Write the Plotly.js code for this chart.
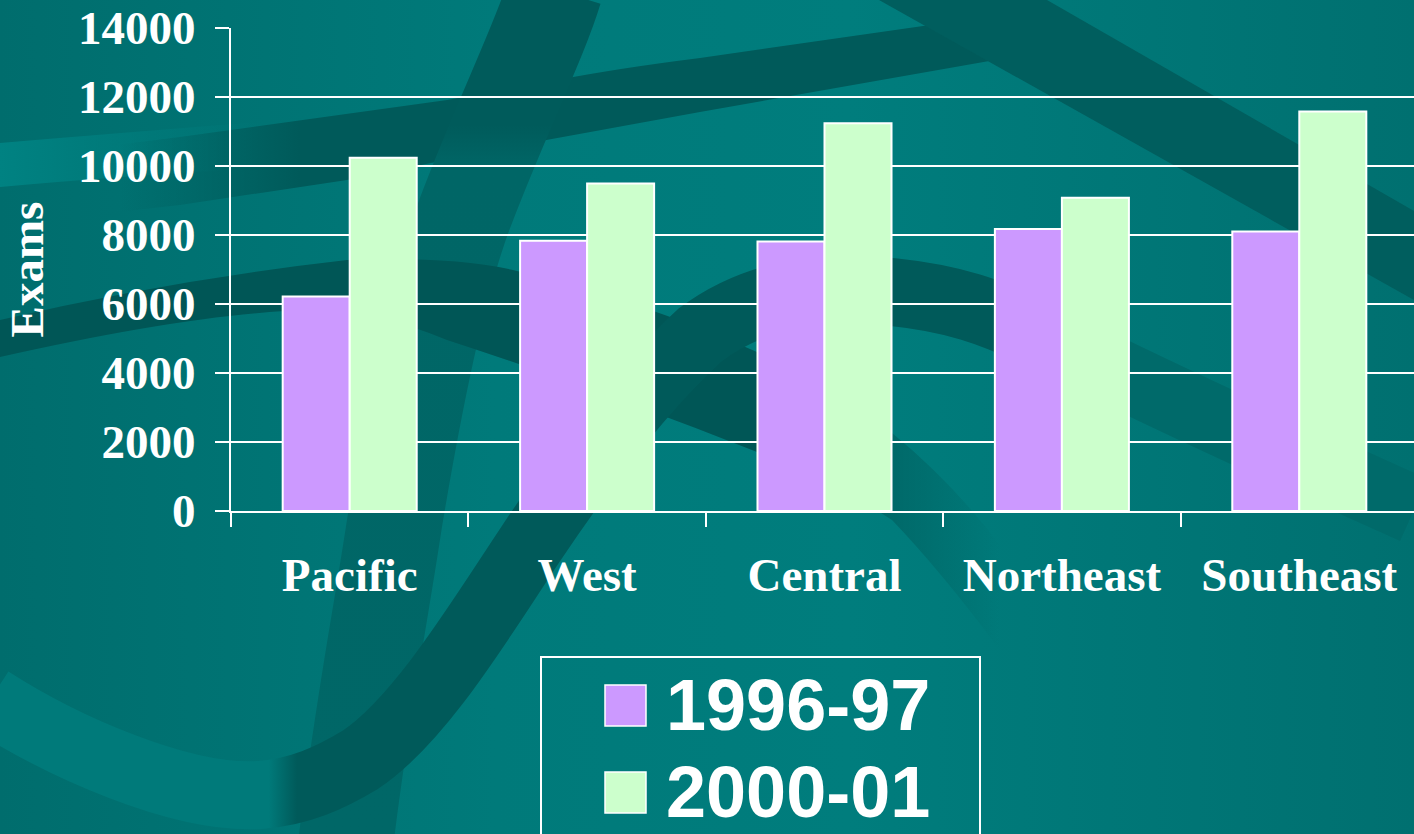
<!DOCTYPE html>
<html><head><meta charset="utf-8">
<script src="https://cdn.plot.ly/plotly-3.0.1.min.js"></script>
<style>
html,body{margin:0;padding:0;width:1414px;height:834px;overflow:hidden;background:#007878;}
#bg{position:absolute;left:0;top:0;}
#chart{position:absolute;left:0;top:0;width:1420px;height:834px;}
</style></head><body>
<svg id="bg" width="1414" height="834" xmlns="http://www.w3.org/2000/svg">
  <defs>
    <linearGradient id="g0" gradientUnits="userSpaceOnUse" x1="0" y1="0" x2="1414" y2="0">
      <stop offset="0" stop-color="#006d6d"/>
      <stop offset="0.35" stop-color="#007a7a"/>
      <stop offset="0.6" stop-color="#007d7d"/>
      <stop offset="1" stop-color="#007070"/>
    </linearGradient>
    <linearGradient id="gA" gradientUnits="userSpaceOnUse" x1="120" y1="0" x2="300" y2="0">
      <stop offset="0" stop-color="#005a5a" stop-opacity="0"/>
      <stop offset="1" stop-color="#005a5a" stop-opacity="1"/>
    </linearGradient>
    <linearGradient id="gL" gradientUnits="userSpaceOnUse" x1="0" y1="0" x2="260" y2="0">
      <stop offset="0" stop-color="#008282" stop-opacity="1"/>
      <stop offset="1" stop-color="#008282" stop-opacity="0"/>
    </linearGradient>
    <linearGradient id="gD" gradientUnits="userSpaceOnUse" x1="0" y1="0" x2="0" y2="834">
      <stop offset="0" stop-color="#005b5b"/>
      <stop offset="0.15" stop-color="#005b5b"/>
      <stop offset="0.2" stop-color="#006666"/>
      <stop offset="1" stop-color="#006767"/>
    </linearGradient>
    <linearGradient id="gB" gradientUnits="userSpaceOnUse" x1="0" y1="0" x2="1000" y2="0">
      <stop offset="0" stop-color="#005656" stop-opacity="1"/>
      <stop offset="0.78" stop-color="#005656" stop-opacity="1"/>
      <stop offset="1" stop-color="#005656" stop-opacity="0"/>
    </linearGradient>
    <linearGradient id="gC" gradientUnits="userSpaceOnUse" x1="0" y1="0" x2="1414" y2="0">
      <stop offset="0" stop-color="#007a7a"/>
      <stop offset="0.19" stop-color="#007a7a"/>
      <stop offset="0.21" stop-color="#005a5a"/>
      <stop offset="0.7" stop-color="#005a5a"/>
      <stop offset="0.76" stop-color="#006a6a"/>
      <stop offset="1" stop-color="#006a6a"/>
    </linearGradient>
  </defs>
  <rect x="0" y="0" width="1414" height="834" fill="url(#g0)"/>
  <path d="M0,143 Q120,133 260,122 L260,168 Q120,176 0,187 Z" fill="url(#gL)"/>
  <path d="M0,160 Q90,148 180,137 L447,100 L557,80 Q620,68 700,58 L930,25 L1000,15 L1030,15 L995,60 L700,112 L530,143 L347,180 L180,205 L0,225 Z" fill="url(#gA)"/>
  <path d="M555,-10 C540,40 500,120 465,213 C440,280 415,400 395,520 C380,620 360,720 345,850" fill="none" stroke="url(#gD)" stroke-width="95"/>
  <path d="M0,320 Q170,280 347,260 Q450,256 513,270 Q640,300 757,352 Q840,390 892,433 Q950,480 1000,545 L1000,650 Q940,570 892,520 Q830,480 757,452 Q600,390 447,340 Q380,312 313,310 Q200,312 0,357 Z" fill="url(#gB)"/>
  <path d="M-10,700 C60,745 180,800 260,795 C300,792 330,778 360,760 C420,720 480,620 530,545 C580,470 640,390 700,335 C760,290 830,285 892,292 C950,298 990,310 1050,340 C1150,390 1280,450 1414,510" fill="none" stroke="url(#gC)" stroke-width="68"/>
  <path d="M879,0 L1047,0 L1414,211 L1414,300 Z" fill="#005e5e"/>
</svg>
<div id="chart"></div>
<script>
const categories = ['Pacific', 'West', 'Central', 'Northeast', 'Southeast'];
const seriesNames = ['1996-97', '2000-01'];
const exams1996 = [6220, 7830, 7810, 8175, 8105];
const exams2000 = [10240, 9490, 11240, 9080, 11580];
const yTickValues = [0, 2000, 4000, 6000, 8000, 10000, 12000, 14000];
const yTitle = 'Exams';

const colors = ['#CC99FF', '#CCFFCC'];
const L = 231, W = 1187, T = 28, H = 483;
const fx = px => (px - L) / W;
const fy = py => (T + H - py) / H;

const traces = [exams1996, exams2000].map((vals, i) => ({
  type: 'bar',
  name: seriesNames[i],
  x: categories,
  y: vals,
  marker: {color: colors[i], line: {color: '#FFFFFF', width: 2}},
  hoverinfo: 'x+y+name'
}));

const serif = 'Liberation Serif, Times New Roman, serif';
const legendRows = [705, 792];
const shapes = [{
  type: 'rect', xref: 'paper', yref: 'paper',
  x0: fx(541), x1: fx(980), y0: fy(657), y1: fy(850),
  line: {color: '#FFFFFF', width: 2}, fillcolor: 'rgba(0,0,0,0)'
}];
const annotations = [];
seriesNames.forEach((n, i) => {
  const cy = legendRows[i];
  shapes.push({
    type: 'rect', xref: 'paper', yref: 'paper',
    x0: fx(605), x1: fx(646), y0: fy(cy - 20), y1: fy(cy + 21),
    line: {color: '#FFFFFF', width: 1.5}, fillcolor: colors[i]
  });
  annotations.push({
    xref: 'paper', yref: 'paper', x: fx(664), y: fy(cy), xanchor: 'left', yanchor: 'middle',
    text: '<b>' + n + '</b>', showarrow: false,
    font: {family: 'Liberation Sans, Arial, sans-serif', size: 72, color: '#FFFFFF'}
  });
});

const layout = {
  width: 1420, height: 834,
  margin: {l: L, r: 1420 - L - W, t: T, b: 834 - T - H, pad: 0},
  paper_bgcolor: 'rgba(0,0,0,0)', plot_bgcolor: 'rgba(0,0,0,0)',
  barmode: 'group', bargap: 0.4355, bargroupgap: 0,
  showlegend: false,
  font: {family: serif, color: '#FFFFFF'},
  xaxis: {
    type: 'category', categoryorder: 'array', categoryarray: categories,
    tickson: 'boundaries', ticks: 'outside', ticklen: 14, tickwidth: 2, tickcolor: '#FFFFFF',
    showline: true, linecolor: '#FFFFFF', linewidth: 2, showgrid: false,
    tickfont: {family: serif, size: 47, color: '#FFFFFF', weight: 'bold'},
    automargin: false, ticklabelstandoff: 22
  },
  yaxis: {
    range: [0, 14000], tickvals: yTickValues, ticktext: yTickValues.map(String),
    ticks: 'outside', ticklen: 14, tickwidth: 2, tickcolor: '#FFFFFF',
    showline: true, linecolor: '#FFFFFF', linewidth: 2,
    showgrid: true, gridcolor: '#FFFFFF', gridwidth: 2, zeroline: false,
    tickfont: {family: serif, size: 47, color: '#FFFFFF', weight: 'bold'},
    automargin: false, ticklabelstandoff: 10,
    title: {text: yTitle, font: {family: serif, size: 47, color: '#FFFFFF', weight: 'bold'}, standoff: 20}
  },
  shapes: shapes,
  annotations: annotations
};

Plotly.newPlot('chart', traces, layout, {displayModeBar: false, staticPlot: true});
</script>
</body></html>
